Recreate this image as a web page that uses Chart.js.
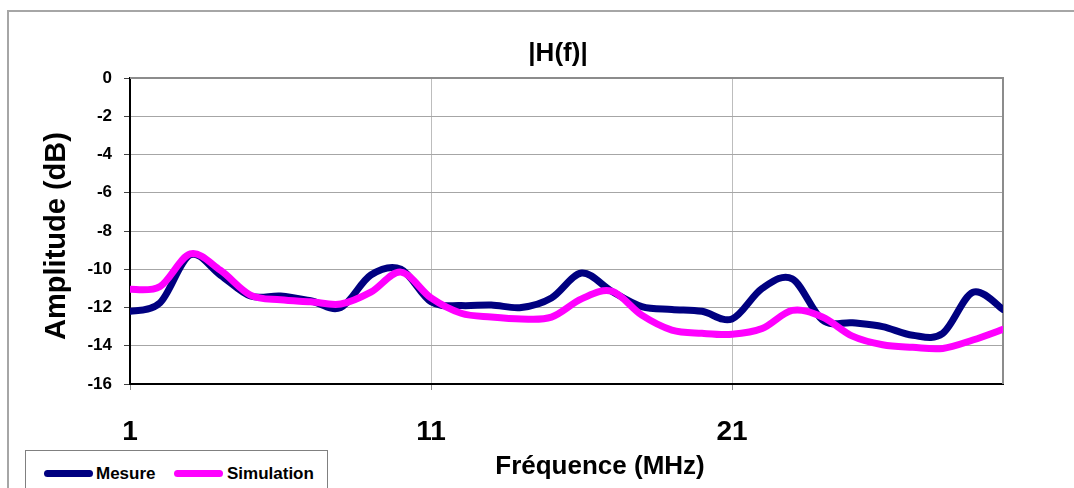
<!DOCTYPE html>
<html>
<head>
<meta charset="utf-8">
<title>|H(f)|</title>
<script src="https://cdn.jsdelivr.net/npm/chart.js@4.4.1/dist/chart.umd.min.js"></script>
<style>
  html, body { margin: 0; padding: 0; background: #fff; }
  #wrap { position: relative; width: 1074px; height: 488px; overflow: hidden; font-family: "Liberation Sans", Arial, sans-serif; }
  #frame { position: absolute; left: 7px; top: 10px; width: 1100px; height: 500px; border-left: 2px solid #a6a6a6; border-top: 2px solid #a6a6a6; }
  #chart { position: absolute; left: 0; top: 0; }
  #legend { position: absolute; left: 25px; top: 450px; width: 301px; height: 60px; border: 1px solid #808080; background: #fff; }
  #legend .swatch { position: absolute; top: 19px; width: 49px; height: 7px; border-radius: 3.5px; }
  #legend .txt { position: absolute; top: 13px; font-size: 17px; font-weight: bold; line-height: 20px; color: #000; }
</style>
</head>
<body>
<div id="wrap">
  <div id="frame"></div>
  <canvas id="chart" width="1074" height="488"></canvas>
  <div id="legend">
    <span class="swatch" style="left:18px;background:#000080"></span><span class="txt" style="left:70px">Mesure</span>
    <span class="swatch" style="left:148px;background:#ff00ff"></span><span class="txt" style="left:201px">Simulation</span>
  </div>
</div>
<script>
// Data
const freq = [1, 2, 3, 4, 5, 6, 7, 8, 9, 10, 11, 12, 13, 14, 15, 16, 17, 18, 19, 20, 21, 22, 23, 24, 25, 26, 27, 28, 29, 30];
const mesure = [-12.2, -11.75, -9.25, -10.3, -11.4, -11.4, -11.65, -12.0, -10.3, -10.0, -11.7, -11.9, -11.87, -12.0, -11.5, -10.2, -11.15, -11.95, -12.1, -12.2, -12.6, -11.0, -10.5, -12.65, -12.8, -13.0, -13.45, -13.35, -11.2, -12.1];
const simulation = [-11.05, -10.9, -9.2, -10.05, -11.35, -11.6, -11.7, -11.82, -11.2, -10.15, -11.5, -12.3, -12.5, -12.6, -12.5, -11.55, -11.15, -12.4, -13.18, -13.35, -13.4, -13.1, -12.15, -12.5, -13.5, -13.95, -14.08, -14.14, -13.7, -13.14];
const xTickValues = [1, 11, 21];
const yMin = -16;
const yMax = 0;

const FONT = '"Liberation Sans", Arial, sans-serif';

// Excel-like smoothing: uniform Catmull-Rom control points on the pixel points
const smoothPlugin = {
  id: "smooth",
  beforeDatasetDraw(chart, args) {
    const line = args.meta.dataset;
    if (!line) return;
    line.updateControlPoints(chart.chartArea, "x");
    const pts = line.points;
    for (let i = 0; i < pts.length; i++) {
      const prev = pts[Math.max(i - 1, 0)];
      const next = pts[Math.min(i + 1, pts.length - 1)];
      const dx = (next.x - prev.x) / 6;
      const dy = (next.y - prev.y) / 6;
      pts[i].cp1x = pts[i].x - dx;
      pts[i].cp1y = pts[i].y - dy;
      pts[i].cp2x = pts[i].x + dx;
      pts[i].cp2y = pts[i].y + dy;
    }
    line._path = undefined;
  },
};

// Plot-area border (top and right) plus the titles
const framePlugin = {
  id: "frame",
  beforeDatasetsDraw(chart) {
    const { ctx, chartArea: a } = chart;
    ctx.save();
    ctx.strokeStyle = "#8c8c8c";
    ctx.lineWidth = 2;
    ctx.beginPath();
    ctx.moveTo(a.left, a.top);
    ctx.lineTo(a.right, a.top);
    ctx.lineTo(a.right, a.bottom);
    ctx.stroke();
    ctx.restore();
  },
  afterDraw(chart) {
    const ctx = chart.ctx;
    ctx.save();
    ctx.fillStyle = "#000";
    ctx.textAlign = "center";
    ctx.textBaseline = "middle";
    ctx.font = "bold 26px " + FONT;
    ctx.fillText("|H(f)|", 558, 54);
    ctx.fillText("Fréquence (MHz)", 600, 467);
    ctx.translate(57, 236);
    ctx.rotate(-Math.PI / 2);
    ctx.font = "bold 29px " + FONT;
    ctx.fillText("Amplitude (dB)", 0, 0);
    ctx.restore();
  },
};

const ctx = document.getElementById("chart").getContext("2d");
new Chart(ctx, {
  type: "line",
  data: {
    datasets: [
      {
        label: "Mesure",
        data: freq.map((f, i) => ({ x: f, y: mesure[i] })),
        borderColor: "#000080",
        backgroundColor: "#000080",
        borderWidth: 7,
        pointRadius: 0,
        tension: 0.4,
        borderCapStyle: "round",
        borderJoinStyle: "round",
        order: 2,
      },
      {
        label: "Simulation",
        data: freq.map((f, i) => ({ x: f, y: simulation[i] })),
        borderColor: "#ff00ff",
        backgroundColor: "#ff00ff",
        borderWidth: 7,
        pointRadius: 0,
        tension: 0.4,
        borderCapStyle: "round",
        borderJoinStyle: "round",
        order: 1,
      },
    ],
  },
  options: {
    responsive: false,
    animation: false,
    layout: { padding: { top: 78, right: 71, left: 0, bottom: 0 } },
    plugins: {
      legend: { display: false },
      title: { display: false },
      tooltip: { enabled: false },
    },
    scales: {
      x: {
        type: "linear",
        min: 1,
        max: 30,
        afterBuildTicks: (scale) => {
          scale.ticks = xTickValues.map((v) => ({ value: v }));
        },
        afterFit: (scale) => {
          scale.height = 104;
        },
        ticks: {
          color: "#000",
          padding: 25,
          maxRotation: 0,
          autoSkip: false,
          font: { family: FONT, size: 28, weight: "bold" },
        },
        grid: { color: "#bdbdbd", tickLength: 6, tickColor: "#8c8c8c" },
        border: { color: "#000", width: 2 },
      },
      y: {
        min: yMin,
        max: yMax,
        afterFit: (scale) => {
          scale.width = 130;
        },
        ticks: {
          stepSize: 2,
          color: "#000",
          padding: 12,
          font: { family: FONT, size: 17, weight: "bold" },
        },
        grid: { color: "#a6a6a6", tickLength: 6, tickColor: "#404040" },
        border: { color: "#000", width: 2 },
      },
    },
  },
  plugins: [smoothPlugin, framePlugin],
});
</script>
</body>
</html>
